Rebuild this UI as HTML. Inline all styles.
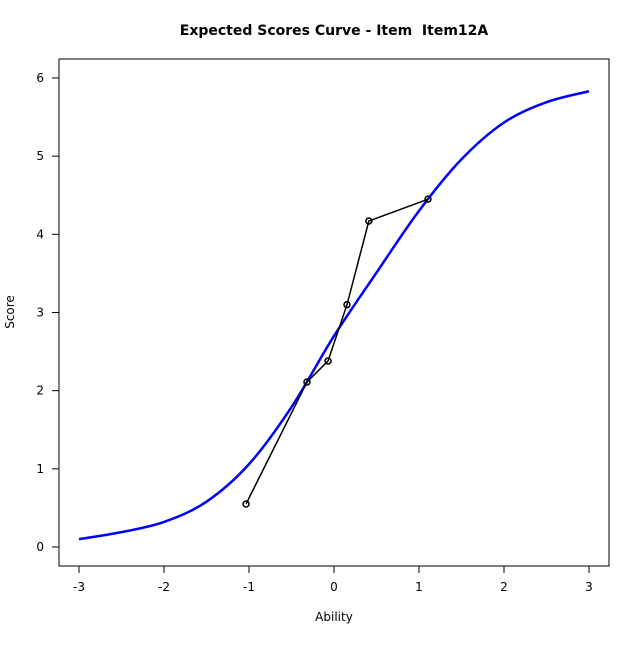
<!DOCTYPE html>
<html><head><meta charset="utf-8"><style>
body{margin:0;background:#fff}
svg{font-family:"DejaVu Sans","Liberation Sans",sans-serif}
</style></head><body>
<svg id="chart" width="640" height="640" viewBox="0 0 640 640">
<rect width="640" height="640" fill="#fff"/>
<text x="334" y="35" text-anchor="middle" font-size="14" font-weight="bold">Expected Scores Curve - Item &#160;Item12A</text>
<rect x="59" y="59" width="550" height="507" fill="none" stroke="#000" stroke-width="1"/>
<text x="334" y="621" text-anchor="middle" font-size="12">Ability</text>
<text transform="translate(14,312) rotate(-90)" text-anchor="middle" font-size="12">Score</text>
<g id="xticks"></g>
<g id="yticks"></g>
<g id="marks"></g>
</svg>
<script>
const curveTheta = [-3,-2.5,-2,-1.5,-1,-0.5,0,0.5,1,1.5,2,2.5,3];
const curveScore = [0.10,0.19,0.32,0.58,1.06,1.79,2.70,3.51,4.30,4.96,5.43,5.69,5.83];
const obsTheta = [-1.035,-0.318,-0.07,0.153,0.41,1.106];
const obsScore = [0.55,2.11,2.38,3.10,4.17,4.45];
const xTicks = [-3,-2,-1,0,1,2,3];
const yTicks = [0,1,2,3,4,5,6];

const NS="http://www.w3.org/2000/svg";
const X = v => 334 + v*85;
const Y = v => 547 - v*78.17;
function mk(tag, attrs, parent){const e=document.createElementNS(NS,tag);for(const k in attrs)e.setAttribute(k,attrs[k]);parent.appendChild(e);return e;}
const xg=document.getElementById('xticks'), yg=document.getElementById('yticks'), mg=document.getElementById('marks');
xTicks.forEach(t=>{
  mk('line',{x1:X(t),x2:X(t),y1:566,y2:573,stroke:'#000'},xg);
  const tx=mk('text',{x:X(t),y:591,'text-anchor':'middle','font-size':12},xg);
  tx.textContent=t;
  
  
});
yTicks.forEach(t=>{
  mk('line',{x1:52,x2:59,y1:Y(t),y2:Y(t),stroke:'#000'},yg);
  const tx=mk('text',{x:44,y:Y(t)+4,'text-anchor':'end','font-size':12},yg);
  tx.textContent=t;
  
  
});
const P=curveTheta.map((t,i)=>[X(t),Y(curveScore[i])]);
let d='M'+P[0][0]+','+P[0][1];
for(let i=0;i<P.length-1;i++){
  const p0=P[Math.max(0,i-1)],p1=P[i],p2=P[i+1],p3=P[Math.min(P.length-1,i+2)];
  const c1=[p1[0]+(p2[0]-p0[0])/6,p1[1]+(p2[1]-p0[1])/6];
  const c2=[p2[0]-(p3[0]-p1[0])/6,p2[1]-(p3[1]-p1[1])/6];
  d+=` C${c1[0]},${c1[1]} ${c2[0]},${c2[1]} ${p2[0]},${p2[1]}`;
}
const curve=mk('path',{d:d,fill:'none',stroke:'#0000ff','stroke-width':2.5},mg);


const obs=mk('polyline',{points:obsTheta.map((t,i)=>X(t)+','+Y(obsScore[i])).join(' '),fill:'none',stroke:'#000','stroke-width':1.5},mg);


obsTheta.forEach((t,i)=>{
  const c=mk('circle',{cx:X(t),cy:Y(obsScore[i]),r:3,fill:'none',stroke:'#000','stroke-width':1.5},mg);
  
  
});
</script>
</body></html>
